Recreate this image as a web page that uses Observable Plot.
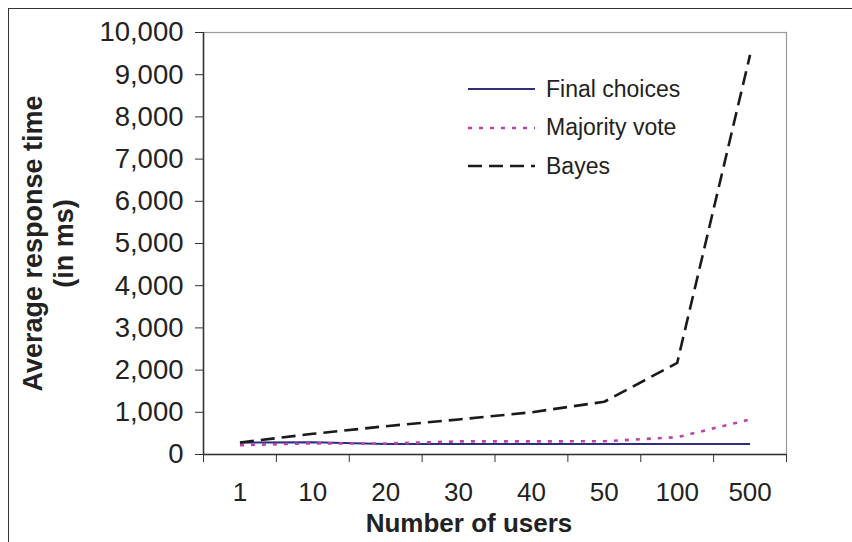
<!DOCTYPE html>
<html><head><meta charset="utf-8">
<script src="https://cdn.jsdelivr.net/npm/d3@7"></script>
<script src="https://cdn.jsdelivr.net/npm/@observablehq/plot@0.6"></script>
<style>
html,body{margin:0;padding:0;background:#fff;}
#wrap{position:relative;width:852px;height:542px;overflow:hidden;font-family:"Liberation Sans",Arial,sans-serif;}
#chart{position:absolute;left:0;top:0;}
#border{position:absolute;left:8px;top:8px;width:900px;height:600px;border-left:1.5px solid #333;border-top:1.5px solid #333;}
#legend{position:absolute;left:468px;top:70px;}
.item{display:flex;align-items:center;height:38.5px;font-size:23px;color:#222;}
.item svg{margin-right:11px;}
</style></head>
<body><div id="wrap"><div id="chart"></div><div id="border"></div><div id="legend"></div></div>
<script>
const categories = ["1", "10", "20", "30", "40", "50", "100", "500"];
const finalChoices = [280, 290, 250, 250, 250, 250, 250, 250];
const majorityVote = [220, 265, 260, 310, 310, 315, 410, 830];
const bayes = [285, 490, 670, 830, 1000, 1250, 2170, 9470];
const yTicks = d3.range(0, 10001, 1000);
const seriesNames = ["Final choices", "Majority vote", "Bayes"];
const seriesColors = ["#2b2f7e", "#c040a8", "#1a1a1a"];
const seriesDash = [null, "4,7", "14,7"];
const seriesWidth = [2, 2.6, 2.6];
const xTitle = "Number of users";
const yTitle = "Average response time\n(in ms)";

const rows = categories.map((c, i) => ({i, c, v: [finalChoices[i], majorityVote[i], bayes[i]]}));
const idx = d3.range(categories.length);
const bounds = d3.range(-0.5, categories.length, 1);
const font = "'Liberation Sans', Arial, sans-serif";

const lineMarks = seriesNames.map((name, s) =>
  Plot.line(rows, {x: "i", y: d => d.v[s], stroke: seriesColors[s], strokeWidth: seriesWidth[s],
    strokeDasharray: seriesDash[s], strokeLinecap: "butt"}));

const chart = Plot.plot({
  width: 852, height: 542,
  marginLeft: 203, marginRight: 66, marginTop: 32, marginBottom: 88,
  style: {fontFamily: font, background: "transparent", color: "#222"},
  x: {domain: [-0.5, categories.length - 0.5], axis: null},
  y: {domain: [0, 10000], axis: null},
  marks: [
    Plot.frame({stroke: "#9a9a9a", strokeWidth: 1.2}),
    Plot.axisY({ticks: yTicks, tickSize: 8, tickPadding: 12, tickFormat: d3.format(","), fontSize: 27.5, label: null, stroke: "#333"}),
    Plot.axisX(bounds, {tickSize: 8, tickFormat: () => "", label: null, stroke: "#333"}),
    Plot.axisX(idx, {tickSize: 0, tickPadding: 28, tickFormat: i => categories[i], fontSize: 26, label: null}),
    Plot.ruleX([bounds[0]], {stroke: "#333", strokeWidth: 1.5}),
    Plot.ruleY([0], {stroke: "#333", strokeWidth: 1.5}),
    ...lineMarks,
    Plot.text([xTitle], {frameAnchor: "bottom", dx: -26, dy: 69, text: d => d, fontSize: 26, fontWeight: "bold", lineAnchor: "middle"}),
    Plot.text([yTitle], {frameAnchor: "left", dx: -156, dy: 0, text: d => d, rotate: -90, fontSize: 27, fontWeight: "bold", textAnchor: "middle", lineAnchor: "middle", lineHeight: 1.15})
  ]
});
document.getElementById("chart").appendChild(chart);

const legend = document.getElementById("legend");
seriesNames.forEach((name, s) => {
  const item = document.createElement("div");
  item.className = "item";
  item.innerHTML = `<svg width="67" height="10"><line x1="0" x2="67" y1="5" y2="5" stroke="${seriesColors[s]}" stroke-width="${seriesWidth[s]}" ${seriesDash[s] ? `stroke-dasharray="${seriesDash[s]}"` : ""}/></svg><span>${name}</span>`;
  legend.appendChild(item);
});
</script>
</body></html>
